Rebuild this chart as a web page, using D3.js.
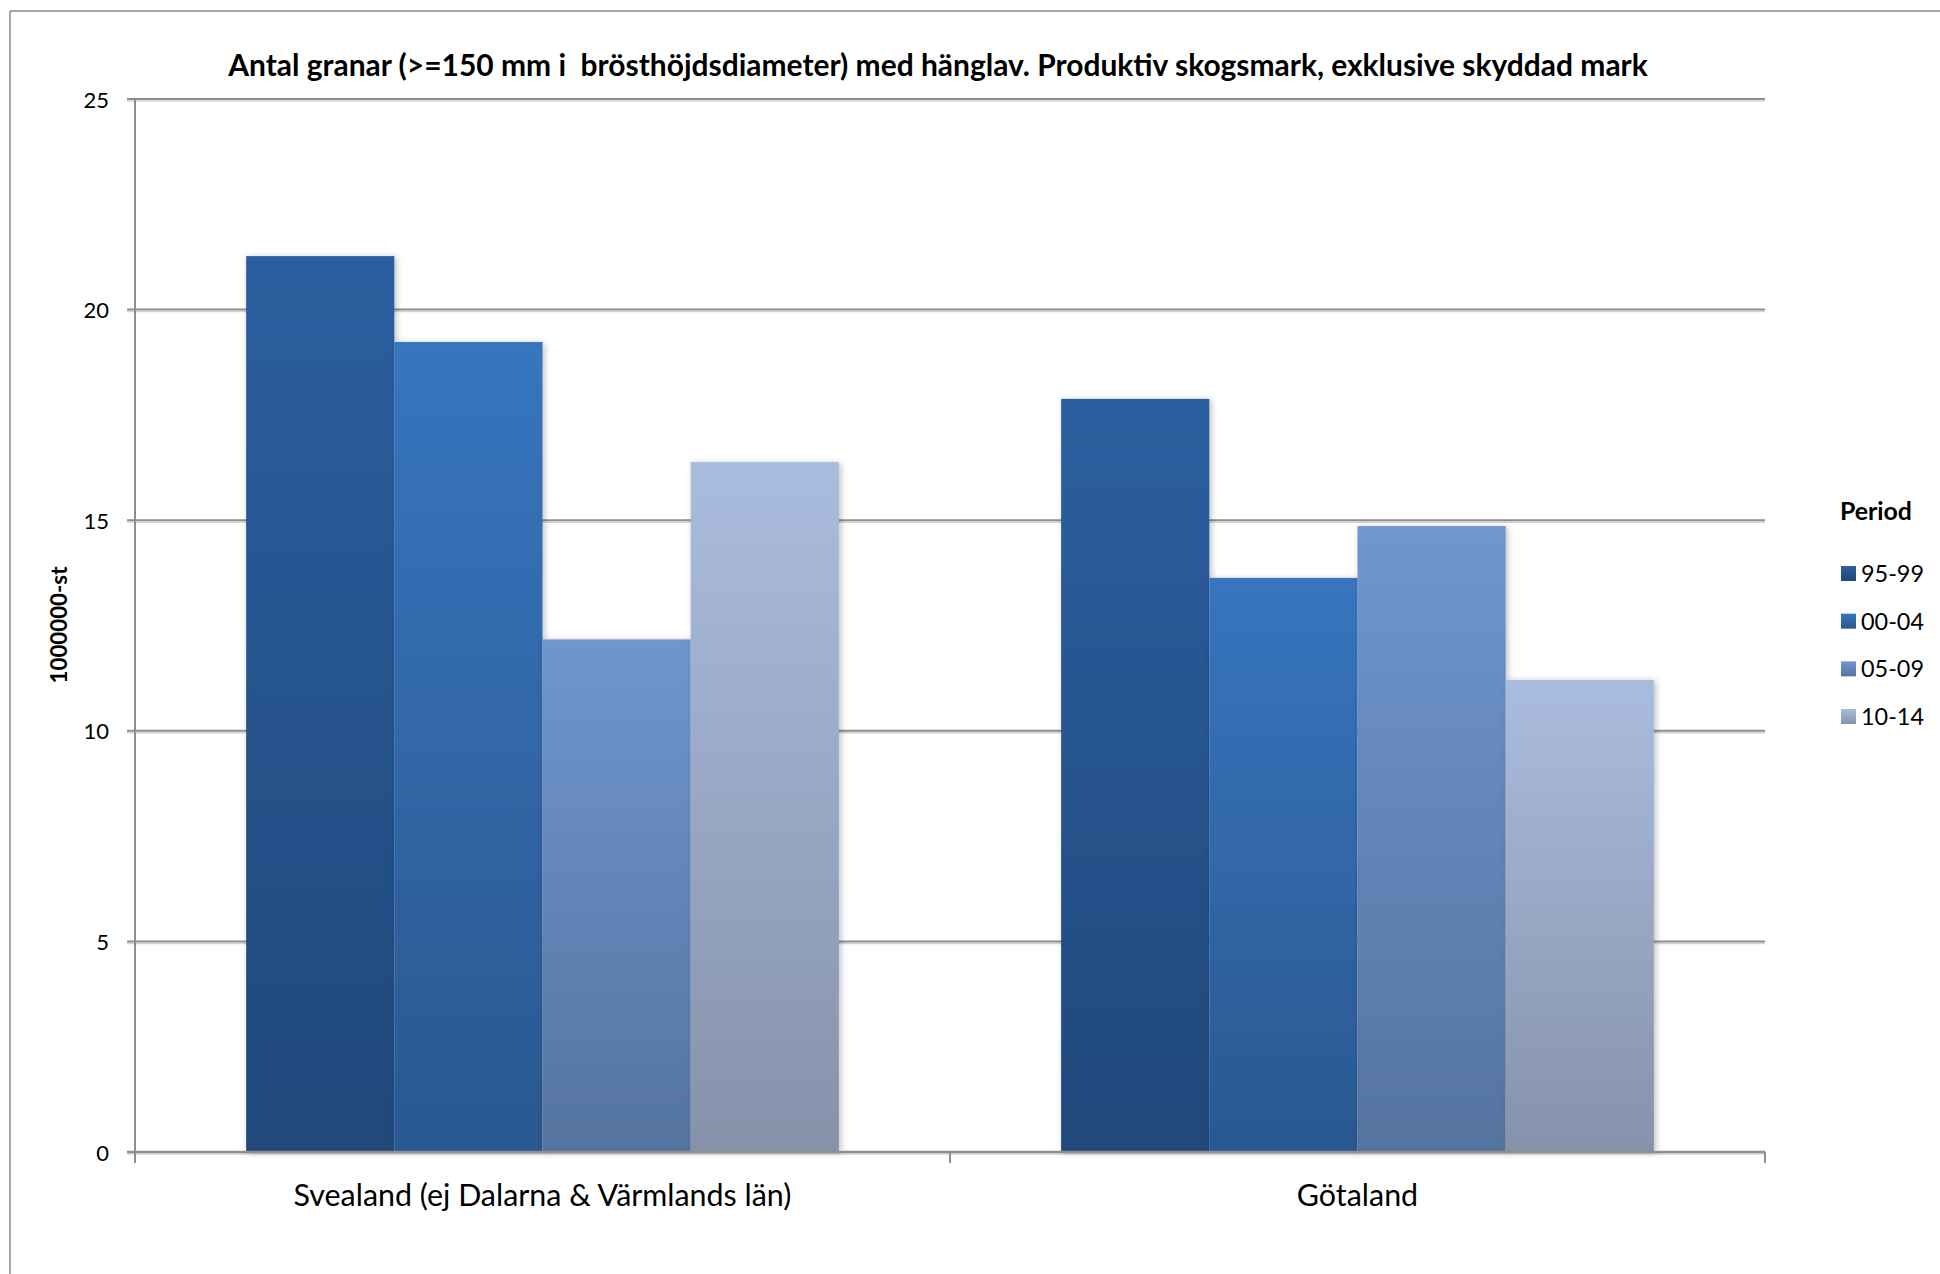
<!DOCTYPE html>
<html>
<head>
<meta charset="utf-8">
<script src="https://cdn.jsdelivr.net/npm/d3@7"></script>
<style>
  html, body { margin: 0; padding: 0; background: #fff; }
  svg { display: block; font-family: Lato, "Open Sans", "DejaVu Sans", sans-serif; }
</style>
</head>
<body>
<svg id="chart" width="1940" height="1274"></svg>
<script>
// ---- data ----
const categories = ["Svealand (ej Dalarna & Värmlands län)", "Götaland"];
const periods = ["95-99", "00-04", "05-09", "10-14"];
const values9599 = [21.27, 17.88];
const values0004 = [19.23, 13.63];
const values0509 = [12.17, 14.86];
const values1014 = [16.38, 11.21];
const yTicks = [0, 5, 10, 15, 20, 25];
const titleText = "Antal granar (>=150 mm i  brösthöjdsdiameter) med hänglav. Produktiv skogsmark, exklusive skyddad mark";
const yAxisTitle = "1000000-st";
const legendTitle = "Period";

const seriesValues = [values9599, values0004, values0509, values1014];
const topColors = ["#2c5fa0", "#3775be", "#6f96cf", "#aabcde"];
const bottomColors = ["#20487a", "#2a5890", "#55739f", "#8592aa"];

// ---- layout ----
const svg = d3.select("#chart");
const plotL = 135, plotR = 1765, plotT = 99, plotB = 1152;

const x0 = d3.scaleBand().domain(categories).range([plotL, plotR]).padding(0);
const x1 = d3.scaleBand().domain(periods).range([0, x0.bandwidth()]).paddingInner(0).paddingOuter(0.75);
const y = d3.scaleLinear().domain([0, 25]).range([plotB, plotT]);

const defs = svg.append("defs");
periods.forEach((p, i) => {
  const g = defs.append("linearGradient").attr("id", "grad" + i)
    .attr("x1", 0).attr("y1", 0).attr("x2", 0).attr("y2", 1);
  g.append("stop").attr("offset", "0%").attr("stop-color", topColors[i]);
  g.append("stop").attr("offset", "100%").attr("stop-color", bottomColors[i]);
});
const f = defs.append("filter").attr("id", "shadow").attr("x", "-10%").attr("y", "-10%").attr("width", "130%").attr("height", "120%");
f.append("feDropShadow").attr("dx", 2).attr("dy", 1).attr("stdDeviation", 3).attr("flood-color", "#000").attr("flood-opacity", 0.25);

// outer border
svg.append("line").attr("x1", 10).attr("y1", 11).attr("x2", 1940).attr("y2", 11).attr("stroke", "#8a8a8a").attr("stroke-width", 1.5);
svg.append("line").attr("x1", 10).attr("y1", 11).attr("x2", 10).attr("y2", 1274).attr("stroke", "#8a8a8a").attr("stroke-width", 1.5);

// gridlines with light shadow
const grid = svg.append("g");
yTicks.forEach(t => {
  grid.append("line").attr("x1", plotL - 8).attr("x2", plotR).attr("y1", y(t) + 2).attr("y2", y(t) + 2)
    .attr("stroke", "#d4d4d4").attr("stroke-width", 1.5);
  grid.append("line").attr("x1", plotL - 8).attr("x2", plotR).attr("y1", y(t)).attr("y2", y(t))
    .attr("stroke", "#8e8e8e").attr("stroke-width", 2);
});

// y axis line
svg.append("line").attr("x1", plotL).attr("x2", plotL).attr("y1", plotT).attr("y2", plotB + 10)
  .attr("stroke", "#8e8e8e").attr("stroke-width", 2);

// bars
const groups = svg.append("g").selectAll("g").data(categories).join("g")
  .attr("transform", d => `translate(${x0(d)},0)`);
groups.each(function(cat, ci) {
  d3.select(this).selectAll("rect").data(periods).join("rect")
    .attr("x", p => x1(p))
    .attr("width", x1.bandwidth())
    .attr("y", (p, i) => y(seriesValues[i][ci]))
    .attr("height", (p, i) => y(0) - y(seriesValues[i][ci]))
    .attr("fill", (p, i) => `url(#grad${i})`)
    .attr("filter", "url(#shadow)");
});

// x axis line & ticks
svg.append("line").attr("x1", plotL - 8).attr("x2", plotR).attr("y1", plotB).attr("y2", plotB)
  .attr("stroke", "#8e8e8e").attr("stroke-width", 2.5);
const xTickPos = [plotL, ...categories.map(c => x0(c) + x0.bandwidth())];
xTickPos.forEach(xp => {
  svg.append("line").attr("x1", xp).attr("x2", xp).attr("y1", plotB).attr("y2", plotB + 11)
    .attr("stroke", "#8e8e8e").attr("stroke-width", 2);
});

// fit helper
function fitSize(textSel, target) {
  const w = textSel.node().getComputedTextLength();
  const fs = parseFloat(textSel.attr("font-size"));
  return fs * target / w;
}

// y tick labels
svg.append("g").selectAll("text").data(yTicks).join("text")
  .attr("x", 109).attr("y", d => y(d)).attr("text-anchor", "end")
  .attr("dominant-baseline", "central").attr("font-size", 22).attr("fill", "#000")
  .text(d => d);

// category labels
const catLabels = svg.append("g").selectAll("text").data(categories).join("text")
  .attr("x", d => x0(d) + x0.bandwidth() / 2).attr("y", 1194)
  .attr("text-anchor", "middle").attr("dominant-baseline", "central")
  .attr("font-size", 26).attr("fill", "#000").text(d => d);
const catFs = fitSize(d3.select(catLabels.nodes()[0]), 498);
catLabels.attr("font-size", catFs);

// title
const title = svg.append("text").attr("x", 938).attr("y", 64)
  .attr("text-anchor", "middle").attr("dominant-baseline", "central")
  .style("white-space", "pre")
  .attr("font-weight", "bold").attr("font-size", 26).attr("fill", "#000").text(titleText);
title.attr("font-size", fitSize(title, 1420));

// y axis title
const yt = svg.append("text").attr("transform", "translate(58,625) rotate(-90)")
  .attr("text-anchor", "middle").attr("dominant-baseline", "central")
  .attr("font-weight", "bold").attr("font-size", 20).attr("fill", "#000").text(yAxisTitle);
yt.attr("font-size", fitSize(yt, 117));

// legend
const lt = svg.append("text").attr("x", 1840).attr("y", 510).attr("dominant-baseline", "central")
  .attr("font-weight", "bold").attr("font-size", 22).attr("fill", "#000").text(legendTitle);
lt.attr("font-size", fitSize(lt, 72));

const legendY = d3.scalePoint().domain(periods).range([573, 716]);
const leg = svg.append("g").selectAll("g").data(periods).join("g")
  .attr("transform", d => `translate(1841,${legendY(d)})`);
leg.append("rect").attr("x", 0).attr("y", -7).attr("width", 15).attr("height", 15)
  .attr("fill", (d, i) => `url(#grad${i})`);
const legTexts = leg.append("text").attr("x", 20).attr("y", 0).attr("dominant-baseline", "central")
  .attr("font-size", 24).attr("fill", "#000").text(d => d);
const legFs = fitSize(d3.select(legTexts.nodes()[0]), 63);
legTexts.attr("font-size", legFs);
</script>
</body>
</html>
